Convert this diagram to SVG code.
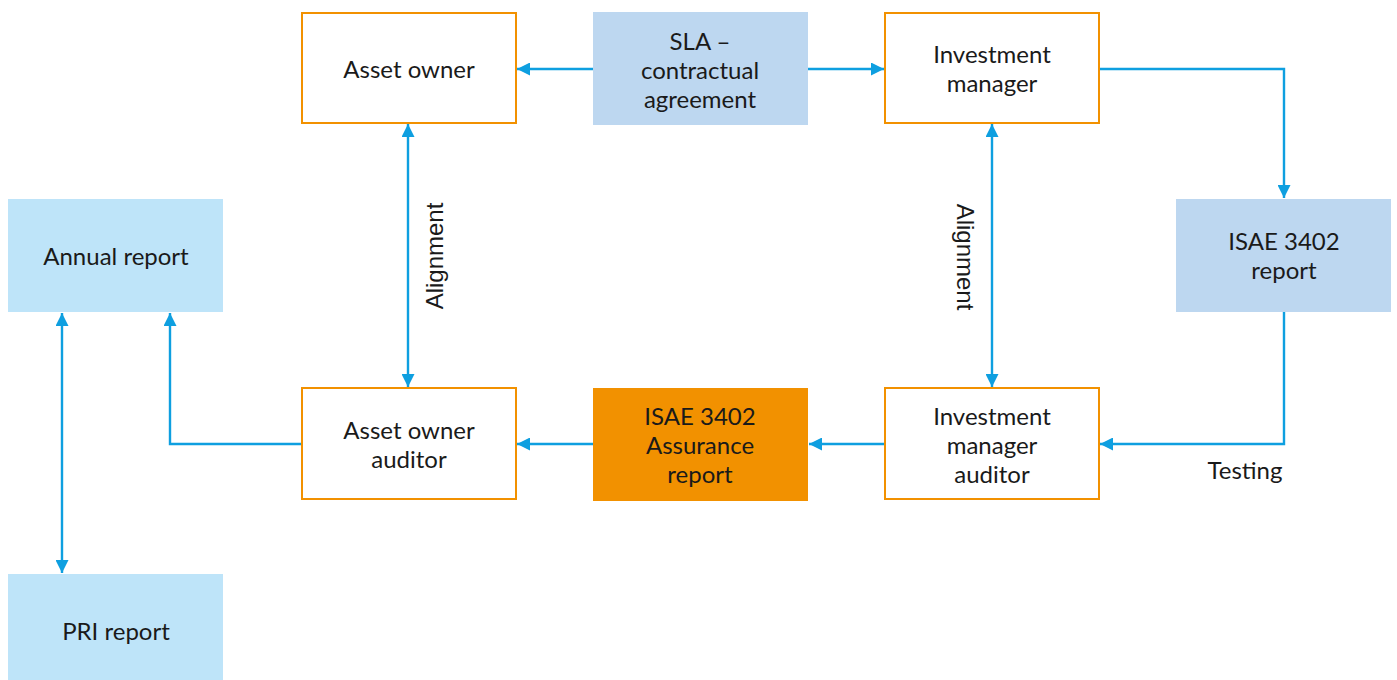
<svg xmlns="http://www.w3.org/2000/svg" width="1397" height="680" viewBox="0 0 1397 680">
<defs>
<marker id="ah" viewBox="0 0 10 10" refX="10" refY="5" markerWidth="13" markerHeight="13" markerUnits="userSpaceOnUse" orient="auto-start-reverse">
<path d="M0,0 L10,5 L0,10 Z" fill="#0E9FE0"/>
</marker>
<style>
.ob{fill:#fff;stroke:#F29100;stroke-width:2}
.bl{fill:#BDD7F0}
.cy{fill:#BEE4F9}
.or{fill:#F29100}
.t{font-family:Lato,"Open Sans",sans-serif;font-size:24px;fill:#1a1a1a;text-anchor:middle}
.a{font-family:"Liberation Sans",Arial,sans-serif;font-size:24px;fill:#1a1a1a;text-anchor:middle}
.c{fill:none;stroke:#0E9FE0;stroke-width:2.4}
</style>
</defs>
<rect width="1397" height="680" fill="#fff"/>
<g id="connectors">
<path class="c" d="M593,69 H517" marker-end="url(#ah)"/>
<path class="c" d="M808,69 H884" marker-end="url(#ah)"/>
<path class="c" d="M1100,69 H1284 V198" marker-end="url(#ah)"/>
<path class="c" d="M1284,312 V444 H1100" marker-end="url(#ah)"/>
<path class="c" d="M885,444 H809" marker-end="url(#ah)"/>
<path class="c" d="M593,444 H517" marker-end="url(#ah)"/>
<path class="c" d="M302,444 H170 V313" marker-end="url(#ah)"/>
<path class="c" d="M62,313 V573" marker-start="url(#ah)" marker-end="url(#ah)"/>
<path class="c" d="M408,124 V387" marker-start="url(#ah)" marker-end="url(#ah)"/>
<path class="c" d="M992,124 V387" marker-start="url(#ah)" marker-end="url(#ah)"/>
<text class="a" transform="translate(443,256) rotate(-90)">Alignment</text>
<text class="a" transform="translate(957,257) rotate(90)">Alignment</text>
<text class="t" x="1245" y="479">Testing</text>
</g>
<g id="asset-owner"><rect class="ob" x="302" y="13" width="214" height="110"/><text class="t" x="409" y="78">Asset owner</text></g>
<g id="sla"><rect class="bl" x="593" y="12" width="215" height="113"/><text class="t" x="700" y="50">SLA –</text><text class="t" x="700" y="79">contractual</text><text class="t" x="700" y="108">agreement</text></g>
<g id="investment-manager"><rect class="ob" x="885" y="13" width="214" height="110"/><text class="t" x="992" y="63">Investment</text><text class="t" x="992" y="92">manager</text></g>
<g id="isae-report"><rect class="bl" x="1176" y="199" width="215" height="113"/><text class="t" x="1284" y="250">ISAE 3402</text><text class="t" x="1284" y="279">report</text></g>
<g id="annual-report"><rect class="cy" x="8" y="199" width="215" height="113"/><text class="t" x="116" y="265">Annual report</text></g>
<g id="pri-report"><rect class="cy" x="8" y="574" width="215" height="106"/><text class="t" x="116" y="640">PRI report</text></g>
<g id="asset-owner-auditor"><rect class="ob" x="302" y="388" width="214" height="111"/><text class="t" x="409" y="439">Asset owner</text><text class="t" x="409" y="468">auditor</text></g>
<g id="assurance-report"><rect class="or" x="593" y="388" width="215" height="113"/><text class="t" x="700" y="425">ISAE 3402</text><text class="t" x="700" y="454">Assurance</text><text class="t" x="700" y="483">report</text></g>
<g id="investment-manager-auditor"><rect class="ob" x="885" y="388" width="214" height="111"/><text class="t" x="992" y="425">Investment</text><text class="t" x="992" y="454">manager</text><text class="t" x="992" y="483">auditor</text></g>
</svg>
